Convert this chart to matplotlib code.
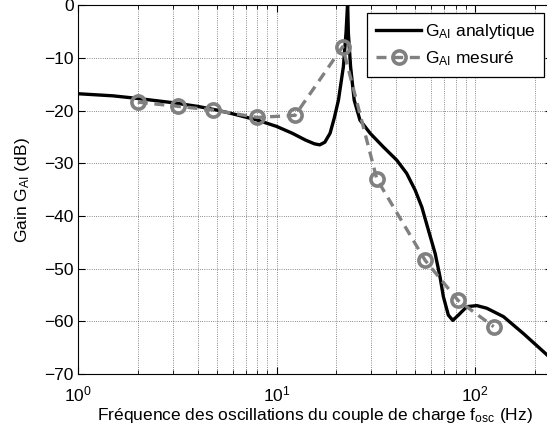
import numpy as np
import matplotlib
matplotlib.use('Agg')
import matplotlib.pyplot as plt

plt.rcParams['font.family'] = ['Liberation Sans', 'DejaVu Sans']
plt.rcParams['mathtext.fontset'] = 'custom'
plt.rcParams['mathtext.rm'] = 'Liberation Sans'
plt.rcParams['mathtext.it'] = 'Liberation Sans'

# analytic gain
f_ana = [1.0, 1.5, 2.0, 3.0, 4.0, 5.0, 6.0, 8.0, 10.0, 12.0, 14.0, 15.5, 16.5,
         17.5, 18.6, 19.5, 20.5, 21.7, 22.4, 22.8, 23.0, 23.6, 24.6, 26.3,
         29.6, 34.5, 40.3, 45.2, 49.9, 53.9, 58.2, 62.9, 66.6, 69.2, 73.3,
         77.2, 82.4, 90.8, 102, 114.5, 139, 175, 231, 245]
g_ana = [-16.8, -17.2, -17.7, -18.5, -19.2, -19.9, -20.6, -21.8, -23.0, -24.3,
         -25.6, -26.3, -26.5, -26.0, -24.3, -21.5, -18.0, -11.7, -5.0, 0.5,
         -5.4, -11.7, -18.0, -21.8, -24.3, -26.9, -29.4, -31.9, -35.1, -38.3,
         -42.7, -47.1, -51.6, -55.3, -58.8, -59.8, -58.8, -57.2, -57.0, -57.5,
         -59.1, -62.3, -66.4, -67.3]

# measured gain
f_mes = [2.0, 3.2, 4.8, 8.0, 12.4, 21.5, 32, 56, 82, 124]
g_mes = [-18.4, -19.2, -19.9, -21.3, -20.9, -7.9, -33.0, -48.4, -56.0, -61.0]

fig = plt.figure(figsize=(5.47, 4.32), dpi=100)
# axes run a few pixels past the right border, as in the cropped original
ax = fig.add_axes([0.1426, 0.134, 0.8666, 0.854])

ax.semilogx(f_ana, g_ana, 'k-', lw=2.4, label=r'G$_{\mathregular{AI}}$ analytique')
ax.semilogx(f_mes, g_mes, '--', color='#808080', lw=2.4, marker='o', ms=9.5,
            mfc='none', mec='#808080', mew=2.6, dashes=(3.0, 2.0),
            label=r'G$_{\mathregular{AI}}$ mesuré')

ax.set_xlim(1, 244)
ax.set_ylim(-70, 0)
ax.set_yticks(np.arange(-70, 1, 10))
ax.grid(True, which='major', axis='both', linestyle=':', color='k', lw=0.6, alpha=0.6)
ax.grid(True, which='minor', axis='x', linestyle=':', color='k', lw=0.6, alpha=0.6)
ax.tick_params(which='both', direction='in', top=True, right=True, labelsize=12.5)
ax.tick_params(which='major', length=5)
ax.tick_params(axis='y', pad=3)
ax.tick_params(axis='x', which='both', pad=7.5)
ax.tick_params(which='minor', length=3)

ax.set_xlabel(r'Fréquence des oscillations du couple de charge f$_{\mathregular{osc}}$ (Hz)',
              fontsize=12.5, labelpad=1)
ax.set_ylabel(r'Gain G$_{\mathregular{AI}}$ (dB)', fontsize=12.5, labelpad=9)

leg = ax.legend(loc='upper right', fontsize=12.5, fancybox=False, framealpha=1,
                edgecolor='k', handlelength=2.6, handletextpad=0.2,
                borderaxespad=0.45, borderpad=0.5, labelspacing=0.5)
leg.get_frame().set_linewidth(0.9)

fig.savefig('out.png', dpi=100)
